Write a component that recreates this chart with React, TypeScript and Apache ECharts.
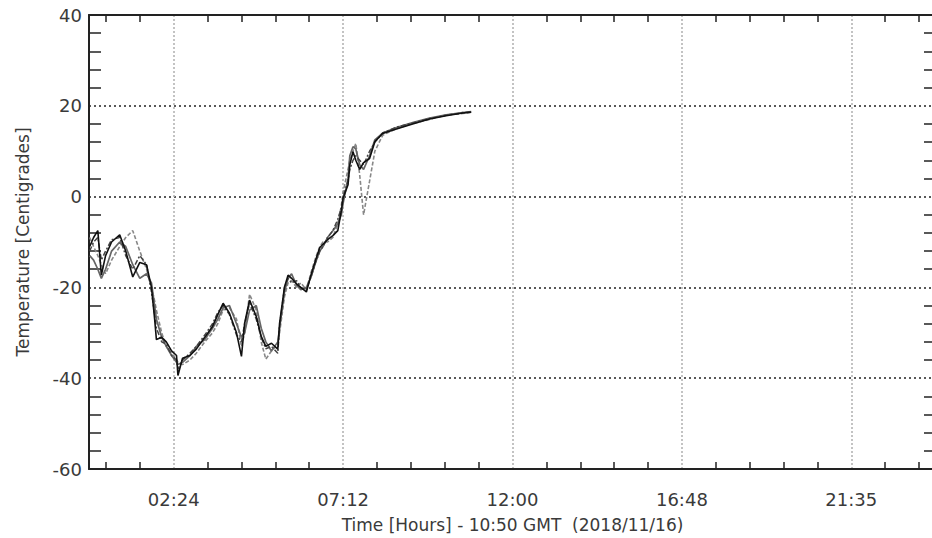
import React, { useEffect, useRef } from "react";
import * as echarts from "echarts";

// Time in hours since start
const hours = [
  0.02, 0.13, 0.25, 0.35, 0.47, 0.64, 0.87, 1.04, 1.24, 1.44, 1.63, 1.77, 1.86, 1.91,
  2.06, 2.19, 2.34, 2.48, 2.52, 2.65, 2.86, 3.04, 3.28, 3.5, 3.65, 3.8, 3.98, 4.18,
  4.32, 4.41, 4.55, 4.74, 4.88, 5.01, 5.17, 5.35, 5.4, 5.54, 5.64, 5.74, 5.88, 6.0,
  6.16, 6.3, 6.42, 6.54, 6.63, 6.76, 6.91, 7.05, 7.15, 7.2, 7.34, 7.39, 7.48, 7.56,
  7.67, 7.78, 7.95, 8.1, 8.32, 8.71, 9.17, 9.65, 10.12, 10.59, 10.83,
];

const sensorA = [
  -11, -9, -7.5, -17.3, -13, -10, -8.4, -12, -17.7, -14.5, -15, -20, -27, -31.5,
  -31, -32, -34, -35, -39.4, -35.6, -35, -33.6, -31, -28.6, -26, -23.5, -25.7, -30,
  -35.2, -27.9, -22.8, -26.4, -30.8, -33, -32.3, -33.6, -27.9, -19.9, -17.3, -18, -19.2, -20,
  -21, -17, -14, -11.2, -10.5, -9.5, -8.6, -7.5, -3.1, -0.3, 2.6, 7, 9.9, 8,
  6, 7.5, 8.4, 12.1, 13.9, 14.9, 16, 17.1, 17.8, 18.4, 18.6,
];

const sensorB = [
  -13, -14, -16, -18, -16, -12, -10, -11, -15, -18, -17, -19, -24, -27,
  -31, -33, -35, -36.5, -37, -36.5, -35, -33, -31.5, -29, -27, -24.5, -24, -28,
  -31, -30, -25, -24, -29, -32, -34, -32, -29, -21, -18, -17, -19.5, -20.5,
  -20, -17.5, -14.5, -12, -11, -9, -7.5, -6, -4, -1.5, 4, 9, 11, 10.5,
  7, 6, 9, 12.5, 14, 15.2, 16.3, 17.3, 18, 18.5, 18.7,
];

const sensorC = [
  -9, -11, -13, -15, -17, -14, -11, -9, -7.5, -12, -16, -20, -23, -25,
  -30, -33, -34.5, -36, -36.5, -37, -36, -34.5, -32, -30, -28, -25, -24.5, -27,
  -33, -30, -21.5, -25, -32, -35.8, -34, -32.5, -30, -22, -19, -18.5, -20, -19,
  -20.5, -16.5, -13.5, -11, -10, -10, -9, -6, -2, 1, 6, 8, 10, 11.7,
  4.8, -4, 3.4, 10, 13.5, 15, 16.1, 17, 18, 18.3, 18.6,
];

const sensorD = [
  -12, -10, -9, -14, -12, -9.5, -9, -13, -16, -13, -15, -21, -26, -29,
  -32, -32.5, -35, -36, -38, -36, -34.5, -33, -30.5, -28, -25.5, -24, -26, -30.5,
  -32, -28, -23.5, -27, -31, -33.5, -33, -34.5, -28.5, -20, -18, -19, -18.5, -20,
  -20.5, -17.5, -14.5, -12, -11, -9, -7.5, -5, -2.5, 0, 3.5, 6, 8, 9,
  8, 7, 10, 12, 14, 15.3, 16.2, 17.2, 17.9, 18.5, 18.6,
];

// Axis ticks / labels
const xTickStep = 0.48; // hours between tick positions on the time axis
const xTickCount = 51; // 0 .. 24 h
const xMajorIndex = [5, 15, 25, 35, 45];
const xMajorLabels = ["02:24", "07:12", "12:00", "16:48", "21:35"];
const yMin = -60;
const yMax = 40;
const yStep = 20;

const xCategories = Array.from({ length: xTickCount }, (_, i) => {
  const k = xMajorIndex.indexOf(i);
  return k >= 0 ? xMajorLabels[k] : String(+(i * xTickStep).toFixed(2));
});

const FONT = "DejaVu Sans";
const TXT = "#3a3a3a";

export default function App() {
  const ref = useRef<HTMLDivElement>(null);
  useEffect(() => {
    if (!ref.current) return;
    const chart = echarts.init(ref.current, undefined, { renderer: "svg" });
    const mk = (vals: number[]) => hours.map((h, i) => [h, vals[i]]);
    const isMajor = (i: number) => xMajorIndex.indexOf(i) >= 0;
    const isMinor = (i: number) => i % 2 === 1 && !isMajor(i);
    const border = { show: true, onZero: false, lineStyle: { color: "#222", width: 2 } };
    chart.setOption({
      animation: false,
      backgroundColor: "#ffffff",
      grid: { left: 89, top: 15, width: 847, height: 459, containLabel: false },
      xAxis: [
        { type: "value", min: 0, max: 24, show: false, position: "bottom", axisLine: { onZero: false } },
        {
          type: "category",
          position: "bottom",
          data: xCategories,
          boundaryGap: false,
          axisLine: border,
          axisTick: {
            show: true,
            inside: true,
            length: 7,
            interval: (i: number) => isMinor(i),
            lineStyle: { color: "#222", width: 1.5 },
          },
          axisLabel: {
            show: true,
            interval: (i: number) => isMajor(i),
            margin: 21,
            fontFamily: FONT,
            fontSize: 18,
            color: TXT,
          },
          splitLine: {
            show: true,
            interval: (i: number) => isMajor(i),
            lineStyle: { color: "#b0b0b0", width: 1.5, type: [2, 2] },
          },
          name: "Time [Hours] - 10:50 GMT  (2018/11/16)",
          nameLocation: "middle",
          nameGap: 47,
          nameTextStyle: { fontFamily: FONT, fontSize: 17, color: TXT },
        },
        {
          type: "category",
          position: "top",
          data: xCategories,
          boundaryGap: false,
          axisLine: border,
          axisTick: {
            show: true,
            inside: true,
            length: 7,
            interval: (i: number) => isMinor(i),
            lineStyle: { color: "#222", width: 1.5 },
          },
          axisLabel: { show: false },
          splitLine: { show: false },
        },
      ],
      yAxis: [
        {
          type: "value",
          position: "left",
          min: yMin,
          max: yMax,
          interval: yStep,
          axisLine: border,
          axisTick: { show: false, inside: true },
          minorTick: { show: true, splitNumber: 5, length: 12, lineStyle: { color: "#222", width: 1.5 } },
          axisLabel: {
            margin: 7,
            fontFamily: FONT,
            fontSize: 18,
            color: TXT,
            formatter: (v: number) => String(v),
          },
          splitLine: { show: true, lineStyle: { color: "#222", width: 1.5, type: [2, 3] } },
          name: "Temperature [Centigrades]",
          nameLocation: "middle",
          nameRotate: 90,
          nameGap: 58,
          nameTextStyle: { fontFamily: FONT, fontSize: 17, color: TXT },
        },
        {
          type: "value",
          position: "right",
          min: yMin,
          max: yMax,
          interval: yStep,
          axisLine: border,
          axisTick: { show: false, inside: true },
          minorTick: { show: true, splitNumber: 5, length: 12, lineStyle: { color: "#222", width: 1.5 } },
          axisLabel: { show: false },
          splitLine: { show: false },
        },
      ],
      series: [
        {
          type: "line", name: "Sensor C", xAxisIndex: 0, yAxisIndex: 0, data: mk(sensorC),
          showSymbol: false, lineStyle: { color: "#888", width: 1.6, type: [4, 2] },
        },
        {
          type: "line", name: "Sensor B", xAxisIndex: 0, yAxisIndex: 0, data: mk(sensorB),
          showSymbol: false, lineStyle: { color: "#666", width: 1.7 },
        },
        {
          type: "line", name: "Sensor D", xAxisIndex: 0, yAxisIndex: 0, data: mk(sensorD),
          showSymbol: false, lineStyle: { color: "#444", width: 1.5, type: [5, 2, 2, 2] },
        },
        {
          type: "line", name: "Sensor A", xAxisIndex: 0, yAxisIndex: 0, data: mk(sensorA),
          showSymbol: false, lineStyle: { color: "#111", width: 1.6 },
        },
      ],
    });
    return () => chart.dispose();
  }, []);
  return (
    <div style={{ position: "absolute", left: 0, top: 0, width: 932, height: 538, overflow: "hidden", background: "#fff" }}>
      <div ref={ref} style={{ width: 945, height: 538 }} />
    </div>
  );
}
